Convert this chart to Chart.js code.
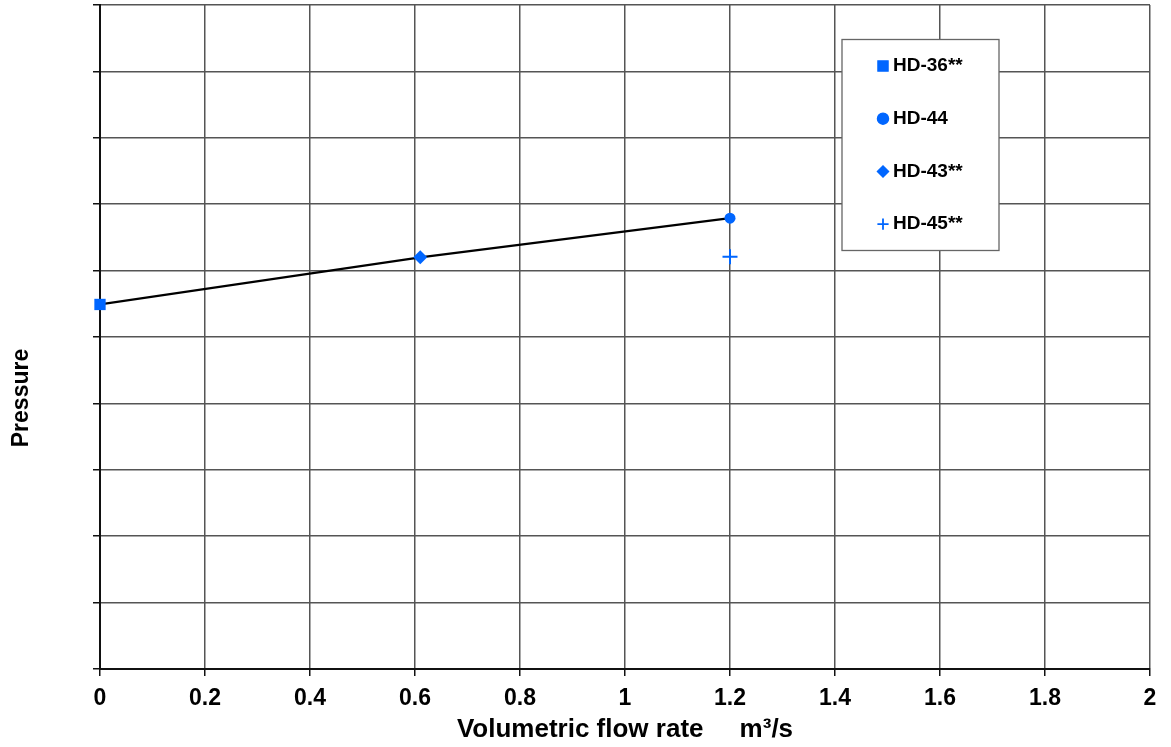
<!DOCTYPE html>
<html>
<head>
<meta charset="utf-8">
<script src="https://cdn.jsdelivr.net/npm/chart.js@4/dist/chart.umd.min.js"></script>
<style>
  html, body { margin: 0; padding: 0; background: #fff; }
  #wrap { width: 1171px; height: 747px; }
</style>
</head>
<body>
<div id="wrap"><canvas id="chart" width="1171" height="747"></canvas></div>
<script>
// data (pressure axis has no labels, so 0..10 grid units)
const seriesNames = ["HD-36**", "HD-44", "HD-43**", "HD-45**"];
const flowRates = [0, 1.2, 0.61, 1.2];
const pressures = [5.49, 6.79, 6.2, 6.21];
// the black line goes through these, in this order
const lineSeries = ["HD-36**", "HD-43**", "HD-44"];
const xTicks = [0, 0.2, 0.4, 0.6, 0.8, 1, 1.2, 1.4, 1.6, 1.8, 2];

// marker look per series
const markerShape = ["rect", "circle", "rectRot", "cross"];
const markerSize = [8, 5.5, 7, 7.5];
const blue = "#0066ff";
const fontFamily = "'Liberation Sans', Arial, sans-serif";

const markerSets = seriesNames.map((name, i) => ({
  label: name,
  type: "scatter",
  data: [{ x: flowRates[i], y: pressures[i] }],
  pointStyle: markerShape[i],
  pointRadius: markerSize[i],
  pointHoverRadius: markerSize[i],
  backgroundColor: blue,
  borderColor: blue,
  borderWidth: markerShape[i] === "cross" ? 2 : 0,
  clip: false,
}));

const linePoints = lineSeries.map((name) => {
  const i = seriesNames.indexOf(name);
  return { x: flowRates[i], y: pressures[i] };
});

// legend box inside the plot + rotated y title
const legendBox = {
  id: "legendBox",
  afterDraw(chart) {
    const c = chart.ctx;
    c.save();
    // y axis title
    c.translate(22, 398);
    c.rotate(-Math.PI / 2);
    c.font = "bold 23px " + fontFamily;
    c.fillStyle = "#000";
    c.textAlign = "center";
    c.textBaseline = "middle";
    c.fillText("Pressure", 0, 0);
    c.restore();

    c.save();
    c.fillStyle = "#fff";
    c.fillRect(842, 39.5, 157, 211);
    c.strokeStyle = "#666";
    c.lineWidth = 1.3;
    c.strokeRect(842, 39.5, 157, 211);
    c.font = "bold 19px " + fontFamily;
    c.textBaseline = "middle";
    c.textAlign = "left";
    seriesNames.forEach((name, i) => {
      const y = 66 + i * 52.7;
      c.fillStyle = blue;
      c.strokeStyle = blue;
      c.lineWidth = markerShape[i] === "cross" ? 1.8 : 0;
      Chart.helpers.drawPoint(c, {
        pointStyle: markerShape[i],
        radius: markerShape[i] === "rect" ? 7.2 : 5.6,
        borderWidth: c.lineWidth,
      }, 883, y);
      c.fillStyle = "#000";
      c.fillText(name, 893, y);
    });
    c.restore();
  },
};

new Chart(document.getElementById("chart"), {
  type: "scatter",
  data: {
    datasets: [
      ...markerSets,
      {
        label: "line",
        type: "line",
        data: linePoints,
        borderColor: "#000",
        borderWidth: 2.2,
        pointRadius: 0,
        fill: false,
        tension: 0,
      },
    ],
  },
  options: {
    responsive: false,
    animation: false,
    layout: {
      autoPadding: false,
      padding: { top: 5, right: 21, left: 0, bottom: 0 },
    },
    plugins: {
      legend: { display: false },
      tooltip: { enabled: false },
    },
    scales: {
      x: {
        type: "linear",
        min: 0,
        max: 2,
        afterBuildTicks: (scale) => {
          scale.ticks = xTicks.map((v) => ({ value: v }));
        },
        afterFit: (scale) => {
          scale.height = 78;
        },
        ticks: {
          color: "#000",
          font: { family: fontFamily, size: 23, weight: "bold" },
          padding: 9,
          maxRotation: 0,
          autoSkip: false,
          callback: (v) => String(Math.round(v * 10) / 10),
        },
        grid: {
          color: "#555",
          lineWidth: 1.5,
          tickColor: "#111",
          tickLength: 7,
        },
        border: { color: "#111", width: 2 },
        title: {
          display: true,
          text: "Volumetric flow rate     m³/s",
          color: "#000",
          font: { family: fontFamily, size: 26, weight: "bold" },
          padding: { top: 0, bottom: 2 },
        },
      },
      y: {
        type: "linear",
        min: 0,
        max: 10,
        ticks: { display: false, stepSize: 1 },
        afterFit: (scale) => {
          scale.width = 100;
          scale.paddingTop = 0;
          scale.paddingBottom = 0;
        },
        grid: {
          color: "#555",
          lineWidth: 1.5,
          tickColor: "#111",
          tickLength: 7,
        },
        border: { color: "#111", width: 2 },
      },
    },
  },
  plugins: [legendBox],
});
</script>
</body>
</html>
